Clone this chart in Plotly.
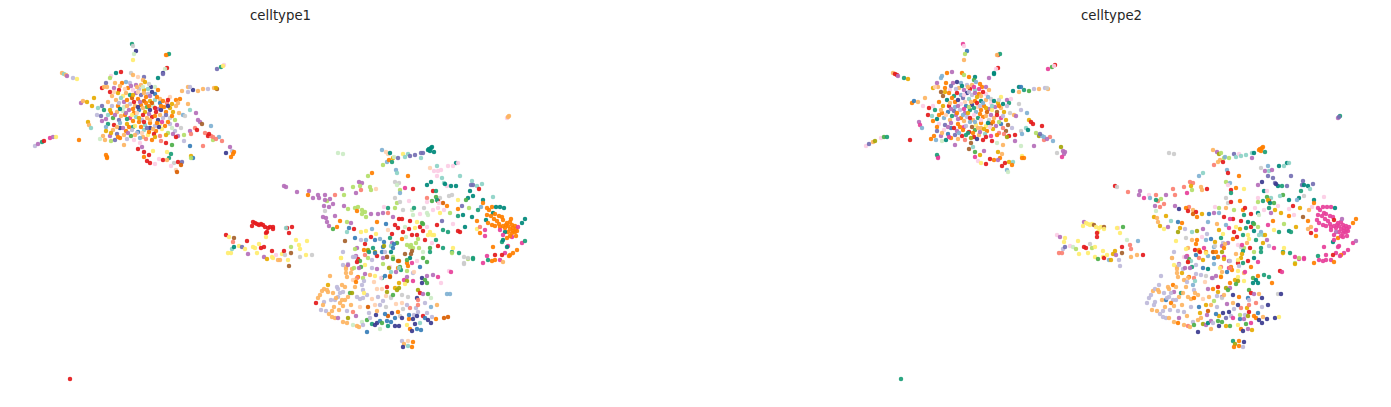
import plotly.graph_objects as go

# Each point: UMAP1, UMAP2, celltype1 code, celltype2 code (embedding)
top_arms = [
 (132,44,'G','K'),(133,46,'E','k'),(136,51,'N','U'),(134,54,'d','l'),(133,60,'Y','L'),
 (167,55,'L','R'),(169,54,'G','G'),(166,55,'O','L'),
 (167,68,'R','R'),(165,69,'d','k'),(163,73,'N','T'),(163,74,'P','T'),(158,78,'T','M'),
 (62,73,'L','L'),(64,74,'I','R'),(66,75,'L','R'),(67,76,'M','M'),(73,78,'V','G'),(77,79,'Y','A'),
 (217,69,'P','K'),(221,67,'G','g'),(224,65,'k','R'),(223,66,'Y','k'),
 (193,90,'N','G'),(182,91,'L','T'),(188,87,'L','T'),(190,87,'V','U'),(188,92,'V','L'),(198,91,'L','g'),
 (203,89,'L','V'),(208,89,'V','L'),(214,88,'L','V'),(217,89,'B','L'),(216,88,'A','E'),
 (35,146,'V','k'),(38,144,'M','P'),(42,142,'G','L'),(44,141,'R','D'),(50,138,'K','k'),(53,137,'M','g'),(56,137,'Y','G'),
 (79,140,'O','R'),(107,157,'O','K'),(106,155,'O','G'),(107,158,'O','K'),
 (88,122,'A','M'),(89,125,'L','K'),(91,128,'I','u'),
 (81,103,'M','O'),(83,101,'L','U'),(87,102,'A','L'),(92,106,'A','k'),(94,98,'A','L'),
 (205,133,'S','l'),(208,136,'R','D'),(211,136,'S','u'),(213,140,'l','S'),(213,137,'S','u'),(219,137,'u','S'),(222,141,'S','u'),(211,126,'u','R'),(203,146,'S','M'),(209,134,'R','P'),(216,139,'S','M'),
 (230,147,'M','D'),(226,153,'N','E'),(232,151,'V','M'),(234,152,'O','M'),(233,154,'O','M'),(231,157,'O','K'),
 (138,149,'R','B'),(142,147,'M','I'),(140,143,'k','B'),(144,152,'R','g'),(144,157,'O','K'),(149,155,'R','A'),(153,151,'Y','M'),(147,161,'R','k'),(150,163,'R','Y'),(155,164,'k','R'),
 (159,159,'k','R'),(163,160,'R','O'),(167,152,'Y','A'),(171,154,'G','L'),(169,158,'G','O'),(167,160,'L','M'),(174,163,'E','R'),(171,166,'k','R'),(178,162,'R','A'),(182,162,'P','I'),(181,165,'F','O'),(176,170,'e','u'),(177,172,'F','d'),(191,156,'A','Y'),(193,158,'U','O'),(191,158,'l','O'),
]

core_blob = [
 (116,73,'T','O'),(121,72,'R','M'),(111,76,'k','u'),(110,78,'l','u'),(131,73,'E','O'),(133,75,'L','l'),(138,77,'e','O'),(144,77,'P','T'),(143,80,'L','g'),(106,83,'P','M'),(107,87,'L','L'),(102,88,'R','A'),(104,87,'L','e'),
 (115,83,'L','O'),(122,83,'O','M'),(126,82,'u','N'),(130,83,'V','u'),(136,85,'M','V'),(141,85,'L','L'),(145,82,'A','u'),(151,87,'N','O'),(155,87,'d','M'),(148,89,'I','K'),
 (114,88,'M','O'),(119,90,'R','k'),(128,88,'O','L'),(133,90,'k','M'),(139,89,'V','R'),(144,90,'A','I'),(158,90,'O','L'),(148,94,'V','O'),(155,94,'U','k'),(110,92,'R','B'),(112,96,'L','B'),
 (118,93,'A','O'),(123,96,'Y','G'),(130,95,'G','u'),(136,93,'M','N'),(141,95,'P','V'),(146,97,'O','A'),(152,92,'N','R'),(160,99,'L','E'),(170,97,'e','Y'),(176,100,'O','M'),(180,99,'O','k'),
 (116,100,'L','T'),(124,102,'M','O'),(132,98,'F','P'),(138,99,'O','I'),(144,101,'F','O'),(150,101,'A','T'),(155,100,'I','L'),(160,103,'U','k'),(167,103,'S','A'),(172,104,'A','T'),(178,103,'L','G'),
 (108,102,'L','O'),(112,106,'V','A'),(118,106,'O','R'),(124,107,'d','u'),(130,104,'V','k'),(135,106,'L','U'),(141,105,'O','N'),(147,107,'g','e'),(153,106,'d','O'),(158,109,'M','M'),(164,107,'O','M'),(170,108,'A','L'),(176,106,'L','V'),(188,104,'L','E'),
 (102,106,'P','k'),(98,108,'I','R'),(104,110,'G','G'),(111,113,'O','O'),(117,112,'L','U'),(123,111,'d','P'),(129,110,'M','V'),(134,113,'O','M'),(139,110,'U','G'),(145,112,'A','u'),(150,110,'N','O'),(156,112,'R','F'),(161,110,'N','Y'),(166,112,'O','B'),(173,112,'A','A'),(179,113,'L','E'),(190,110,'I','V'),(183,115,'u','L'),
 (97,115,'V','R'),(101,116,'P','I'),(106,119,'M','T'),(113,118,'g','u'),(119,120,'P','L'),(125,115,'O','M'),(130,118,'K','O'),(136,117,'I','V'),(142,120,'V','L'),(147,118,'L','G'),(152,117,'R','O'),(158,120,'N','E'),(163,118,'V','L'),(170,118,'E','K'),(175,120,'l','A'),(185,116,'E','M'),(196,113,'M','u'),
 (102,121,'M','O'),(108,124,'G','k'),(114,125,'R','P'),(120,123,'u','M'),(127,124,'A','O'),(133,127,'G','K'),(139,122,'O','u'),(145,125,'I','Y'),(150,123,'O','O'),(155,126,'V','Y'),(160,124,'Y','B'),(165,126,'O','M'),(170,124,'V','U'),(177,125,'M','B'),(198,120,'M','A'),(200,122,'M','R'),(202,124,'B','R'),
 (113,130,'L','k'),(106,127,'u','O'),(120,128,'N','U'),(126,131,'O','M'),(132,130,'V','O'),(138,132,'U','R'),(144,130,'I','g'),(150,128,'N','L'),(156,131,'O','O'),(162,129,'Y','A'),(168,133,'l','S'),(175,131,'V','B'),(181,128,'E','V'),(190,131,'M','E'),(195,128,'S','I'),(197,130,'R','T'),
 (103,136,'L','O'),(106,131,'A','P'),(110,136,'M','M'),(117,134,'P','U'),(124,135,'L','P'),(131,136,'g','R'),(137,133,'V','G'),(143,137,'L','R'),(148,135,'Y','L'),(154,134,'R','I'),(160,136,'S','K'),(166,135,'A','O'),(173,134,'M','S'),(178,136,'M','R'),(184,135,'l','R'),(191,134,'S','u'),
 (100,139,'d','O'),(105,140,'L','u'),(111,141,'l','d'),(115,140,'P','T'),(120,138,'O','O'),(127,139,'V','L'),(134,140,'k','S'),(140,138,'u','D'),(146,139,'S','N'),(152,140,'O','R'),(161,141,'S','R'),(166,143,'R','d'),(172,145,'g','L'),(124,145,'L','M'),(190,146,'U','d'),(184,141,'V','M'),(176,137,'R','D'),
]

core_fill = [
 (120,86,'L','P'),(125,89,'e','V'),(131,86,'M','T'),(137,87,'L','L'),(143,87,'d','K'),(149,84,'E','O'),(126,93,'L','R'),(133,95,'A','k'),(138,92,'e','V'),(144,93,'L','M'),(150,96,'M','L'),(157,97,'O','u'),
 (114,92,'e','A'),(121,98,'I','O'),(127,100,'O','N'),(134,102,'R','e'),(140,102,'M','L'),(146,103,'O','R'),(152,103,'F','u'),(163,101,'O','T'),(168,100,'R','E'),(119,103,'V','L'),(127,106,'L','M'),(133,109,'O','K'),
 (138,107,'N','l'),(143,108,'L','G'),(149,106,'O','V'),(155,108,'R','A'),(161,106,'O','I'),(168,106,'N','O'),(120,109,'T','M'),(126,113,'M','O'),(132,115,'Y','u'),(137,113,'e','A'),(143,115,'R','k'),(149,114,'M','O'),
 (155,116,'O','L'),(160,115,'L','M'),(166,115,'P','R'),(172,116,'O','V'),(110,110,'A','L'),(108,115,'I','O'),(115,115,'M','e'),(121,116,'L','G'),(127,119,'G','M'),(133,121,'O','L'),(139,118,'A','R'),(144,122,'R','u'),
 (150,120,'L','k'),(157,123,'O','T'),(162,122,'K','O'),(168,122,'O','l'),(117,127,'L','M'),(123,128,'M','R'),(129,127,'O','O'),(135,126,'Y','V'),(141,127,'O','B'),(147,128,'P','L'),(153,129,'L','A'),(159,127,'N','k'),(172,128,'d','S'),(111,133,'A','L'),(118,137,'O','K'),(128,133,'M','u'),(135,135,'L','G'),(142,133,'e','O'),(149,132,'O','M'),(155,137,'A','R'),
]

strands = [
 (507,118,'k','M'),(509,116,'L','G'),(508,117,'L','P'),
 (338,153,'d','E'),(343,154,'d','E'),
 (429,149,'T','O'),(431,148,'T','O'),(428,150,'T','O'),(430,151,'T','O'),(432,147,'T','O'),(434,152,'T','G'),
 (382,150,'u','L'),(386,152,'e','M'),(388,154,'e','D'),(390,153,'T','l'),(383,165,'l','S'),(387,162,'u','L'),(389,160,'O','L'),(392,162,'G','R'),(393,158,'A','l'),(394,157,'d','u'),(398,158,'P','l'),(403,154,'Y','P'),(405,157,'I','I'),(408,154,'I','k'),(410,156,'P','I'),(415,155,'P','I'),(421,153,'P','I'),(423,153,'P','T'),(421,158,'I','M'),
 (284,186,'M','R'),(286,187,'M','E'),(297,192,'M','S'),(309,191,'M','M'),(308,195,'O','M'),(313,198,'M','K'),(318,195,'M','k'),(319,198,'M','u'),(325,195,'M','S'),(335,195,'S','M'),(342,189,'M','S'),(344,195,'l','S'),(353,187,'l','S'),(356,193,'M','K'),(359,182,'M','S'),(362,183,'M','S'),(360,186,'l','A'),(361,190,'S','l'),(370,187,'l','L'),(371,190,'l','L'),(376,189,'e','R'),(368,176,'l','u'),(372,173,'O','I'),
 (327,201,'l','S'),(325,200,'M','G'),(330,199,'M','l'),(333,204,'M','S'),(329,207,'M','S'),(324,206,'M','M'),(325,211,'E','d'),(344,206,'M','M'),(348,209,'l','N'),(323,217,'M','A'),(326,218,'M','L'),(327,222,'M','L'),(329,226,'M','A'),(333,229,'g','Y'),(337,227,'O','M'),(340,221,'O','I'),(335,216,'M','A'),(347,222,'l','U'),(351,223,'M','O'),(354,229,'R','V'),(347,232,'I','D'),(349,228,'U','A'),
 (358,207,'l','S'),(362,210,'l','L'),(355,208,'l','O'),(365,212,'l','R'),(362,214,'l','F'),(366,217,'l','O'),(357,211,'O','R'),
 (253,222,'R','M'),(252,226,'R','Y'),(255,223,'R','Y'),(257,224,'R','Y'),(259,225,'R','Y'),(261,224,'R','Y'),(263,225,'R','B'),(265,227,'R','Y'),(268,228,'R','Y'),(270,227,'R','Y'),(273,227,'R','B'),(273,229,'R','Y'),(267,232,'R','Y'),(266,233,'R','R'),(287,228,'R','k'),(292,227,'R','g'),(289,233,'R','Y'),(286,228,'I','Y'),
 (226,235,'R','k'),(229,237,'Y','M'),(234,238,'B','Y'),(233,242,'S','Y'),(247,241,'R','Y'),(266,237,'Y','R'),
 (228,253,'Y','S'),(231,253,'Y','S'),(232,249,'I','V'),(234,247,'T','P'),(239,246,'Y','k'),(242,247,'P','d'),(245,249,'Y','l'),(253,247,'Y','R'),(255,248,'Y','R'),(259,244,'Y','E'),(261,248,'R','l'),(264,247,'R','Y'),(248,254,'M','Y'),(257,253,'Y','Y'),(272,251,'R','Y'),(264,257,'M','Y'),(267,259,'A','g'),(272,257,'Y','Y'),(273,258,'Y','R'),(278,260,'L','u'),(280,260,'L','A'),(276,255,'k','Y'),(282,254,'Y','A'),(284,251,'R','A'),(285,255,'E','M'),(288,260,'Y','V'),(291,253,'B','B'),(291,247,'l','R'),(296,240,'Y','d'),(299,245,'Y','S'),(300,249,'Y','S'),(300,257,'E','L'),(307,241,'Y','u'),(306,255,'Y','L'),(312,255,'E','R'),(289,266,'B','V'),
]

east_lobe = [
 (437,166,'I','u'),(430,168,'e','E'),(434,171,'k','M'),(438,171,'k','I'),(441,170,'k','M'),(437,176,'k','P'),(456,163,'T','T'),(458,163,'k','I'),(448,166,'k','T'),(453,166,'k','I'),(460,176,'I','P'),
 (442,178,'I','P'),(444,183,'I','P'),(431,182,'T','N'),(427,185,'T','M'),(433,191,'R','T'),(436,191,'G','k'),(447,186,'k','T'),(451,186,'T','G'),(456,186,'T','P'),(445,184,'T','N'),
 (472,181,'I','P'),(471,185,'P','P'),(473,185,'P','T'),(477,186,'I','T'),(482,184,'I','P'),(479,189,'R','I'),(470,191,'T','G'),(473,196,'T','E'),(468,198,'T','T'),(466,200,'g','u'),(483,200,'T','T'),(481,207,'u','k'),(493,197,'I','k'),
 (452,195,'E','g'),(449,196,'E','I'),(440,198,'E','I'),(436,197,'g','g'),(427,198,'S','k'),(427,202,'k','l'),(424,208,'E','k'),(432,201,'g','G'),(438,201,'R','R'),(437,200,'G','A'),(443,203,'F','g'),(447,206,'O','k'),(439,203,'k','T'),(433,210,'k','k'),(438,208,'k','G'),(444,210,'k','A'),
 (458,200,'Y','T'),(462,206,'P','R'),(469,208,'l','A'),(458,209,'O','k'),(458,216,'G','O'),(463,215,'T','k'),(472,217,'T','B'),(477,221,'O','O'),(478,210,'G','L'),(450,213,'l','A'),(440,213,'Y','M'),(442,221,'P','O'),(443,230,'G','Y'),(448,232,'G','G'),(437,225,'R','K'),(465,227,'T','A'),(458,231,'R','T'),(460,232,'R','G'),(453,224,'k','l'),(477,229,'Y','L'),(480,227,'S','L'),(485,230,'K','K'),(485,236,'K','O'),(480,233,'O','R'),
 (487,208,'O','K'),(492,207,'O','K'),(489,210,'O','K'),(483,203,'O','O'),(487,215,'O','K'),(493,213,'T','K'),(495,214,'O','K'),(496,207,'T','K'),(500,207,'T','K'),(504,208,'T','T'),(499,216,'O','K'),(502,217,'O','K'),(503,220,'O','R'),(507,223,'O','K'),(510,222,'O','K'),(512,225,'O','K'),(513,228,'O','K'),(515,232,'O','K'),(512,233,'O','K'),(508,232,'O','K'),(505,232,'T','M'),(503,235,'K','K'),(507,238,'O','O'),(502,242,'G','T'),(512,237,'K','K'),
 (525,219,'T','O'),(522,223,'T','O'),(486,220,'T','K'),(488,223,'O','K'),(492,225,'O','K'),(495,226,'O','K'),(500,227,'O','K'),(500,230,'K','K'),
 (505,228,'O','K'),(508,226,'O','K'),(510,229,'O','K'),(506,225,'O','K'),(503,226,'O','K'),(515,226,'O','K'),(517,231,'O','K'),(513,231,'O','K'),(516,236,'O','K'),(510,236,'O','K'),(497,221,'O','K'),(494,219,'O','K'),(491,216,'O','K'),(499,224,'O','K'),(511,219,'O','M'),(516,229,'O','K'),(518,227,'K','K'),
 (493,247,'O','K'),(508,246,'K','K'),(503,240,'T','K'),(522,243,'K','K'),(525,241,'G','M'),(517,250,'O','K'),(513,253,'O','K'),(510,255,'O','O'),(505,253,'K','K'),(509,256,'O','K'),(507,247,'T','K'),(495,255,'R','K'),(487,256,'K','G'),(502,255,'R','R'),(500,260,'K','K'),(495,260,'O','K'),(492,261,'O','K'),(488,260,'G','K'),(483,263,'K','O'),(503,262,'L','O'),
 (473,258,'G','K'),(468,259,'l','K'),(464,257,'E','K'),(464,263,'E','l'),(459,253,'G','G'),(452,252,'G','G'),(453,248,'Y','Y'),
]

mid_body = [
 (408,176,'O','O'),(396,170,'u','u'),(397,173,'I','R'),(395,182,'E','l'),(399,183,'E','u'),(405,188,'K','O'),(413,189,'R','Y'),(397,185,'d','k'),(400,190,'l','R'),(400,193,'u','G'),(395,198,'E','E'),(397,203,'l','E'),(400,202,'E','R'),(409,201,'k','O'),(412,210,'d','O'),(414,208,'G','R'),
 (388,208,'G','l'),(384,207,'k','k'),(395,208,'l','L'),(403,210,'E','l'),(413,215,'d','G'),(427,213,'d','T'),(428,215,'d','d'),(388,213,'S','u'),(383,213,'M','M'),(378,214,'M','U'),(393,217,'M','R'),
 (402,219,'R','R'),(399,219,'R','K'),(410,221,'R','R'),(395,225,'R','u'),(398,228,'R','K'),(403,232,'R','R'),(409,229,'R','A'),(405,227,'d','Y'),(420,227,'R','R'),(417,222,'Y','T'),(422,223,'g','G'),(423,224,'g','g'),(412,235,'R','G'),(417,235,'R','Y'),(423,231,'R','T'),(427,227,'k','l'),
 (430,232,'Y','u'),(432,235,'Y','I'),(434,235,'Y','A'),(428,235,'Y','I'),(432,243,'k','A'),(425,240,'R','G'),(419,248,'l','R'),(413,248,'l','l'),(407,245,'l','k'),(410,247,'l','E'),(430,248,'g','G'),(423,252,'d','l'),(412,251,'B','G'),(411,254,'B','A'),(405,254,'B','L'),(402,239,'O','O'),(397,243,'g','M'),(390,238,'G','G'),(384,242,'U','A'),(383,247,'U','u'),(380,239,'u','U'),(375,240,'U','u'),(373,248,'G','K'),
 (372,229,'u','M'),(366,231,'Y','D'),(376,234,'Y','V'),(361,232,'Y','I'),(355,238,'U','E'),(357,248,'M','L'),(355,249,'l','Y'),(365,244,'R','O'),(364,250,'O','R'),(368,251,'A','A'),(375,252,'D','O'),(382,252,'U','F'),(385,252,'V','O'),(387,257,'S','u'),(383,264,'l','u'),(390,267,'k','S'),(398,261,'F','M'),(407,263,'O','R'),(412,263,'K','G'),(408,266,'O','V'),(420,267,'U','O'),(423,258,'g','T'),(427,262,'g','K'),(417,261,'k','R'),
 (345,241,'B','Y'),(343,252,'V','V'),(341,258,'Y','E'),(353,257,'V','k'),(356,256,'M','K'),(358,259,'R','g'),(348,264,'V','M'),(357,262,'k','L'),(368,258,'l','S'),(372,260,'V','A'),(365,265,'Y','V'),(361,267,'g','G'),(365,255,'S','U'),(377,256,'R','u'),
 (346,267,'L','L'),(377,269,'M','T'),(398,268,'O','K'),(430,252,'G','G'),
 (359,268,'M','M'),(347,277,'L','L'),(351,273,'L','A'),(363,278,'l','S'),(372,268,'V','U'),(382,278,'G','V'),(389,268,'D','Y'),(391,272,'I','L'),(375,276,'Y','E'),(401,270,'G','O'),(404,280,'K','A'),(410,258,'T','A'),
 (366,240,'u','O'),(371,237,'R','k'),(388,230,'e','A'),(392,234,'R','Y'),(406,237,'d','R'),(416,243,'l','L'),(392,243,'M','V'),(361,240,'V','L'),(386,224,'U','L'),(415,228,'Y','G'),(436,240,'G','M'),(438,246,'R','V'),(420,214,'k','R'),(377,222,'O','u'),(371,214,'M','A'),
]

south_body = [
 (316,303,'R','V'),(318,298,'L','V'),(320,295,'L','V'),(322,291,'L','L'),(324,289,'L','V'),(328,285,'A','V'),(328,292,'L','L'),(327,290,'L','L'),(330,276,'L','V'),(337,287,'V','L'),(338,289,'V','L'),(342,285,'L','O'),(345,287,'L','L'),(343,292,'V','M'),(350,293,'g','G'),(352,293,'D','L'),(355,287,'L','L'),(357,297,'V','L'),(360,299,'V','L'),(363,298,'V','O'),(363,290,'V','V'),(367,295,'V','L'),(364,293,'Y','L'),(348,297,'L','L'),(345,300,'L','V'),(342,300,'L','V'),(340,303,'L','O'),(335,300,'V','U'),(338,297,'V','V'),(336,298,'L','V'),(324,302,'V','V'),(321,310,'V','L'),(326,311,'V','L'),(323,305,'L','V'),(332,311,'L','V'),(334,307,'L','L'),(339,310,'L','V'),(343,306,'L','L'),(329,314,'L','V'),(332,317,'L','V'),(335,318,'L','V'),(338,318,'M','L'),(343,322,'L','L'),(348,318,'D','M'),(347,323,'L','O'),(353,312,'S','V'),(356,316,'M','L'),(353,325,'d','L'),(357,326,'L','S'),(359,327,'L','L'),(362,322,'d','V'),(363,325,'V','g'),(367,320,'g','L'),(369,313,'V','A'),(368,307,'F','U'),(372,324,'G','D'),(375,325,'N','M'),(377,323,'N','T'),(380,321,'U','M'),(382,323,'g','V'),(376,315,'N','M'),(377,311,'L','F'),(380,305,'V','L'),(375,305,'e','A'),(383,301,'V','l'),
 (386,307,'E','V'),(392,313,'N','N'),(395,318,'U','P'),(387,321,'U','g'),(391,322,'U','g'),(388,316,'F','A'),(398,312,'O','N'),(400,316,'E','V'),(403,309,'E','V'),(402,318,'N','K'),(399,326,'N','g'),(407,325,'Y','Y'),(410,329,'O','O'),(412,331,'N','N'),(417,329,'U','M'),(421,330,'U','A'),(409,319,'O','U'),(409,315,'U','l'),(414,315,'V','V'),(413,319,'N','M'),(418,312,'V','R'),(416,308,'V','A'),(410,308,'S','S'),(418,305,'S','S'),(417,316,'N','D'),(423,316,'R','O'),(427,313,'V','U'),(425,318,'U','O'),(428,320,'N','N'),(431,323,'N','N'),(432,317,'V','L'),(436,319,'O','N'),(444,318,'F','N'),(448,317,'F','Y'),(447,294,'u','E'),(450,294,'u','N'),
 (367,332,'U','N'),(402,341,'V','G'),(408,341,'e','O'),(413,342,'O','N'),(404,344,'L','D'),(403,347,'N','O'),(408,346,'I','O'),(412,347,'O','V'),
 (346,269,'L','L'),(346,273,'L','L'),(352,269,'L','V'),(354,268,'l','M'),(360,261,'g','I'),(357,262,'R','R'),(343,265,'V','Y'),(355,257,'V','M'),(348,265,'M','V'),(341,258,'Y','L'),
 (368,250,'D','O'),(369,252,'G','R'),(375,253,'U','Y'),(384,246,'D','E'),(391,246,'I','M'),(394,244,'U','L'),(391,252,'T','D'),(387,257,'B','O'),(383,258,'M','U'),(393,248,'U','O'),(393,257,'l','K'),(393,259,'g','A'),(399,261,'F','V'),(400,267,'g','O'),(407,260,'g','Y'),(411,245,'l','K'),(418,239,'l','Y'),
 (443,248,'G','K'),(452,253,'l','A'),(468,258,'E','l'),(473,259,'G','K'),(464,264,'E','A'),(449,271,'k','R'),(451,272,'K','K'),(438,277,'K','G'),(441,283,'k','O'),(433,275,'M','G'),(427,276,'M','O'),(422,278,'N','g'),(425,280,'g','T'),(427,283,'g','T'),(422,283,'N','T'),(418,290,'D','g'),(420,293,'R','R'),(423,294,'M','M'),(428,294,'g','L'),(417,298,'N','U'),(418,300,'S','V'),(431,298,'d','N'),
 (413,273,'V','L'),(414,272,'e','K'),(413,281,'K','Y'),(407,277,'M','Y'),(407,281,'D','D'),(405,284,'Y','g'),(399,283,'A','O'),(395,288,'A','D'),(399,288,'D','M'),(397,290,'D','g'),(387,287,'R','R'),(387,292,'D','A'),(391,297,'E','M'),(391,298,'E','E'),(393,295,'g','L'),(402,295,'E','N'),(408,297,'E','O'),
 (381,278,'k','M'),(377,289,'e','M'),(382,289,'e','O'),(374,282,'e','e'),(370,275,'L','V'),(365,274,'M','V'),(358,277,'O','O'),(357,278,'S','L'),(355,280,'L','e'),(353,280,'e','L'),(356,282,'O','V'),(362,285,'V','u'),(364,281,'V','I'),
 (385,276,'U','M'),(390,276,'O','Y'),(390,277,'F','O'),(396,272,'M','U'),(407,271,'l','Y'),(399,268,'I','S'),
 (340,293,'V','V'),(333,293,'L','V'),(331,300,'V','L'),(351,305,'L','L'),(347,311,'V','V'),(360,307,'e','V'),(372,299,'e','e'),(378,297,'V','L'),(386,296,'e','V'),(370,318,'V','L'),(385,314,'U','U'),(396,304,'e','M'),(402,303,'e','L'),(407,305,'V','N'),(425,303,'V','S'),(431,307,'u','V'),(437,305,'L','N'),(380,329,'d','L'),(388,326,'G','N'),(395,326,'N','A'),(415,324,'N','g'),(420,323,'I','K'),
]

NAME_COLORS = {
 'R':'#e41a1c','O':'#ff7f00','T':'#00897b','G':'#1b9e77','g':'#4daf4a','L':'#fdb462','V':'#bebada',
 'P':'#7570b3','N':'#3b3b8f','M':'#b56fba','K':'#e7409a','k':'#fccde5','l':'#b3de69','S':'#fb8072',
 'Y':'#ffed6f','A':'#e6ab02','B':'#a6622d','E':'#cccccc','e':'#ffd0b0','I':'#8dd3c7','U':'#377eb8',
 'u':'#80b1d3','D':'#a6a60a','d':'#ccebc5','F':'#d95f02',
}

isolated = [(70,379,'R','G')]
points = top_arms + core_blob + core_fill + strands + east_lobe + mid_body + south_body + isolated
umap1 = [p[0] for p in points]
umap2 = [p[1] for p in points]
celltype1 = [p[2] for p in points]
celltype2 = [p[3] for p in points]

W, H = 1391, 407
fig = go.Figure()
for i, (name, codes) in enumerate([('celltype1', celltype1), ('celltype2', celltype2)]):
    suffix = '' if i == 0 else '2'
    fig.add_trace(go.Scatter(
        x=umap1, y=umap2, mode='markers', name=name, showlegend=False,
        xaxis='x' + suffix, yaxis='y' + suffix, hoverinfo='skip',
        marker=dict(size=4.5, opacity=0.92, color=[NAME_COLORS[c] for c in codes], line=dict(width=0)),
    ))

common = dict(visible=False, showgrid=False, zeroline=False)
fig.update_layout(
    width=W, height=H, margin=dict(l=0, r=0, t=0, b=0),
    paper_bgcolor='white', plot_bgcolor='white', showlegend=False,
    xaxis=dict(domain=[27/W, 533/W], range=[27, 533], **common),
    yaxis=dict(domain=[16/H, 380/H], range=[391, 27], **common),
    xaxis2=dict(domain=[858/W, 1364/W], range=[27, 533], anchor='y2', **common),
    yaxis2=dict(domain=[16/H, 380/H], range=[391, 27], anchor='x2', **common),
    annotations=[
        dict(text=t, x=cx/W, y=1-16/H, xref='paper', yref='paper', showarrow=False,
             xanchor='center', yanchor='middle', font=dict(family='DejaVu Sans', size=13.3, color='#262626'))
        for t, cx in [('celltype1', 280), ('celltype2', 1111)]
    ],
)
fig.write_html('out.html', config={'displayModeBar': False},
               post_script="document.body.style.margin='0';document.body.style.overflow='hidden';")
